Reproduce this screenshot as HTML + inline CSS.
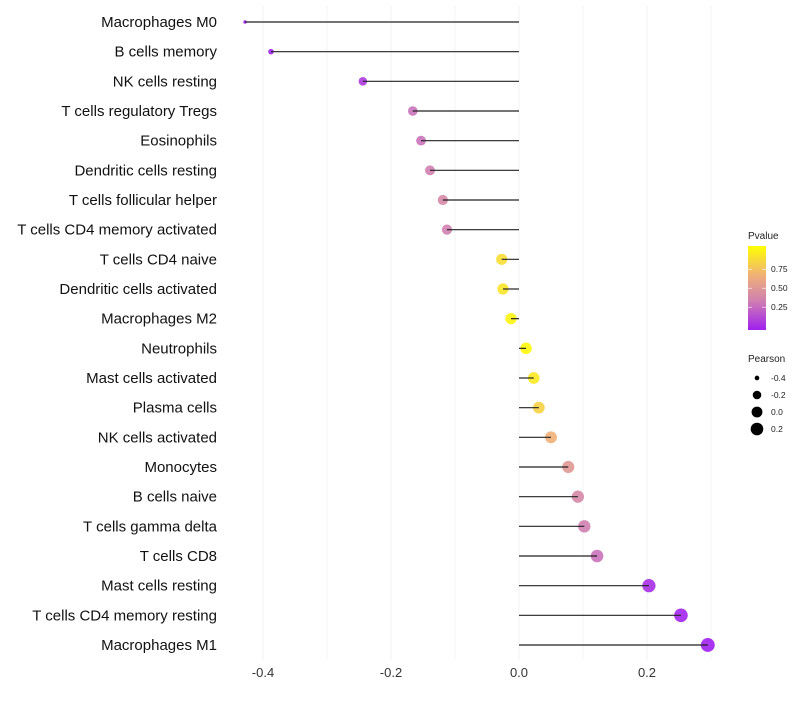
<!DOCTYPE html>
<html><head><meta charset="utf-8"><style>
body{margin:0;background:#fff;font-family:"Liberation Sans",sans-serif}
</style></head><body>
<svg id="c" width="800" height="700" xmlns="http://www.w3.org/2000/svg"></svg>
<script>
const categories=["Macrophages M0","B cells memory","NK cells resting","T cells regulatory  Tregs ","Eosinophils","Dendritic cells resting","T cells follicular helper","T cells CD4 memory activated","T cells CD4 naive","Dendritic cells activated","Macrophages M2","Neutrophils","Mast cells activated","Plasma cells","NK cells activated","Monocytes","B cells naive","T cells gamma delta","T cells CD8","Mast cells resting","T cells CD4 memory resting","Macrophages M1"];
const pearson=[-0.428,-0.3875,-0.244,-0.166,-0.153,-0.139,-0.119,-0.1125,-0.027,-0.025,-0.0125,0.011,0.023,0.031,0.05,0.077,0.092,0.102,0.122,0.203,0.253,0.295];
const pvalue=[0.0,0.02,0.1,0.3,0.3,0.35,0.4,0.35,0.85,0.88,0.95,0.97,0.9,0.8,0.65,0.5,0.4,0.35,0.3,0.05,0.02,0.0];
const xTicks=[-0.4,-0.2,0.0,0.2];
const xTickLabels=["-0.4","-0.2","0.0","0.2"];
const legP=[0.75,0.5,0.25];
const legS=[-0.4,-0.2,0.0,0.2];
const NS="http://www.w3.org/2000/svg";
const svg=document.getElementById('c');
const X=v=>519+v*640;
const Y=i=>22+i*(623/21);
const R=v=>1.5+5.5*Math.sqrt(Math.max(0,(v+0.43)/0.73));
const stops=[[0,[160,32,240]],[0.35,[208,128,176]],[0.65,[240,176,120]],[1,[255,255,0]]];
function col(p){for(let k=1;k<stops.length;k++){if(p<=stops[k][0]){const a=stops[k-1],b=stops[k],t=(p-a[0])/(b[0]-a[0]);return 'rgb('+a[1].map((c,j)=>Math.round(c+(b[1][j]-c)*t)).join(',')+')';}}return 'rgb(255,255,0)';}
function el(t,a,p){const e=document.createElementNS(NS,t);for(const k in a)e.setAttribute(k,a[k]);(p||svg).appendChild(e);return e;}
for(let g=-0.4;g<=0.31;g+=0.1){const l=el('line',{x1:X(g),x2:X(g),y1:5,y2:660,stroke:'#f0f0f0','stroke-width':Math.abs(Math.round(g*10))%2===0?1:0.6});

}
categories.forEach((c,i)=>{
const y=Y(i);
const dot=el('circle',{cx:X(pearson[i]),cy:y,r:R(pearson[i]),fill:col(pvalue[i]),'fill-opacity':0.9});


const ln=el('line',{x1:X(0),x2:X(pearson[i]),y1:y,y2:y,stroke:'#222','stroke-width':1.2});


const t=el('text',{x:217,y:y+5,'text-anchor':'end','font-size':15,fill:'#111'});t.textContent=c;


});
xTicks.forEach((v,i)=>{const t=el('text',{x:X(v),y:677,'text-anchor':'middle','font-size':13,fill:'#333'});t.textContent=xTickLabels[i];

});
const defs=el('defs',{});const gr=el('linearGradient',{id:'pg',x1:0,y1:1,x2:0,y2:0},defs);
stops.forEach(s=>el('stop',{offset:(s[0]*100)+'%','stop-color':col(s[0])},gr));
let lt=el('text',{x:748,y:239,'font-size':10,fill:'#222'});lt.textContent='Pvalue';


const bar=el('rect',{x:748,y:246,width:18,height:84,fill:'url(#pg)'});


legP.forEach(p=>{const y=330-(p+0.05)*76;el('line',{x1:748,x2:752,y1:y,y2:y,stroke:'#fff','stroke-width':0.6});el('line',{x1:762,x2:766,y1:y,y2:y,stroke:'#fff','stroke-width':0.6});
const t=el('text',{x:771,y:y+3,'font-size':8.5,fill:'#222'});t.textContent=p.toFixed(2);

});
lt=el('text',{x:748,y:362,'font-size':10,fill:'#222'});lt.textContent='Pearson';


legS.forEach((v,i)=>{const y=378+i*17;const c=el('circle',{cx:757,cy:y,r:R(v)-0.3,fill:'#000'});


const t=el('text',{x:771,y:y+3,'font-size':8.5,fill:'#222'});t.textContent=v.toFixed(1);

});
</script>
</body></html>
